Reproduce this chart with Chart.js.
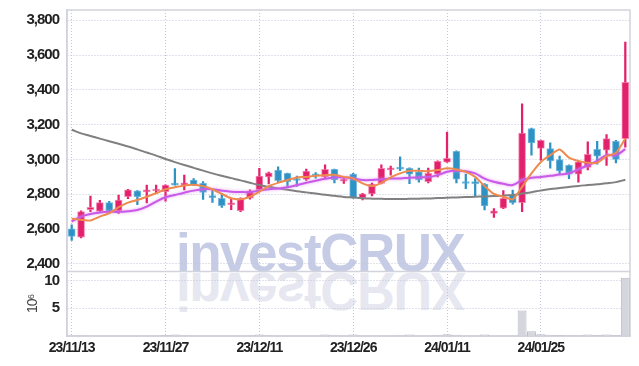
<!DOCTYPE html>
<html>
<head>
<meta charset="utf-8">
<script src="https://cdn.jsdelivr.net/npm/chart.js@4.4.1/dist/chart.umd.min.js"></script>
<style>
  body { margin: 0; background: #fff; }
  #wrap { position: relative; width: 639px; height: 366px; }
  .mark { position: absolute; left: 176px; top: 227px; font: bold 53px "Liberation Sans", sans-serif; line-height: 52px; letter-spacing: -1.5px; white-space: nowrap; }
  .mark.main { color: #c6cce5; }
  .mark.flip { color: #e6e7f0; transform-origin: 0 45px; transform: scaleY(-1); }
  canvas { position: relative; }
</style>
</head>
<body>
<div id="wrap">
  <div class="mark main">investCRUX</div>
  <div class="mark flip">investCRUX</div>
  <canvas id="chart"></canvas>
</div>
<script>
// 거래일 (KRX)
const dates = [
  '23/11/13','23/11/14','23/11/15','23/11/16','23/11/17','23/11/20','23/11/21','23/11/22','23/11/23','23/11/24',
  '23/11/27','23/11/28','23/11/29','23/11/30','23/12/01','23/12/04','23/12/05','23/12/06','23/12/07','23/12/08',
  '23/12/11','23/12/12','23/12/13','23/12/14','23/12/15','23/12/18','23/12/19','23/12/20','23/12/21','23/12/22',
  '23/12/26','23/12/27','23/12/28','24/01/02','24/01/03','24/01/04','24/01/05','24/01/08','24/01/09','24/01/10',
  '24/01/11','24/01/12','24/01/15','24/01/16','24/01/17','24/01/18','24/01/19','24/01/22','24/01/23','24/01/24',
  '24/01/25','24/01/26','24/01/29','24/01/30','24/01/31','24/02/01','24/02/02','24/02/05','24/02/06','24/02/07'
];

const opens = [
  2602, 2554, 2712, 2701, 2752, 2705, 2786, 2820, 2813, 2819,
  2815, 2856, 2853, 2882, 2863, 2790, 2777, 2740, 2706, 2777,
  2825, 2900, 2939, 2920, 2886, 2886, 2914, 2900, 2943, 2876,
  2916, 2781, 2802, 2863, 2940, 2952, 2949, 2929, 2872, 2916,
  2985, 3047, 2866, 2866, 2859, 2690, 2720, 2796, 2752, 3177,
  3063, 3063, 3000, 2967, 2916, 2954, 3059, 3053, 3105, 3120
];
const highs = [
  2624, 2705, 2790, 2765, 2760, 2795, 2828, 2822, 2853, 2853,
  2855, 2948, 2910, 2890, 2873, 2824, 2805, 2775, 2780, 2825,
  2949, 2928, 2958, 2922, 2905, 2945, 2925, 2970, 2945, 2896,
  2920, 2805, 2865, 2970, 2962, 3015, 2952, 2950, 2950, 2992,
  3158, 3050, 2916, 2890, 2862, 2718, 2822, 2824, 3320, 3180,
  3112, 3095, 3020, 2970, 2990, 3101, 3105, 3143, 3110, 3675
];
const lows = [
  2535, 2550, 2700, 2696, 2690, 2690, 2775, 2740, 2750, 2805,
  2760, 2852, 2825, 2850, 2770, 2753, 2724, 2712, 2700, 2772,
  2820, 2860, 2867, 2842, 2845, 2880, 2893, 2893, 2865, 2862,
  2778, 2767, 2790, 2860, 2910, 2936, 2861, 2870, 2866, 2900,
  2983, 2865, 2832, 2790, 2710, 2667, 2718, 2743, 2700, 3025,
  2996, 2950, 2918, 2890, 2870, 2940, 2973, 2966, 2980, 3071
];
const closes = [
  2558, 2701, 2725, 2752, 2701, 2767, 2825, 2787, 2825, 2830,
  2853, 2853, 2866, 2856, 2811, 2781, 2735, 2746, 2777, 2820,
  2905, 2923, 2878, 2872, 2879, 2933, 2906, 2943, 2882, 2886,
  2781, 2802, 2859, 2949, 2952, 2945, 2916, 2882, 2920, 2989,
  3006, 2887, 2862, 2861, 2733, 2705, 2777, 2752, 3152, 3095,
  3110, 2992, 2935, 2916, 2986, 3030, 3019, 3120, 3000, 3443
];

// 이동평균
const ma5 = [
  2659, 2653, 2649, 2672, 2691, 2726, 2752, 2767, 2786, 2806,
  2829, 2840, 2851, 2855, 2847, 2829, 2802, 2777, 2771, 2786,
  2815, 2847, 2866, 2882, 2897, 2900, 2906, 2910, 2912, 2900,
  2891, 2863, 2847, 2866, 2897, 2920, 2935, 2935, 2933, 2939,
  2949, 2943, 2929, 2900, 2847, 2802, 2786, 2771, 2843, 2920,
  2986, 3025, 3057, 3011, 2992, 2981, 2981, 3019, 3038, 3120
];
const ma20 = [
  2643, 2672, 2687, 2695, 2699, 2699, 2703, 2710, 2729, 2758,
  2783, 2796, 2809, 2821, 2829, 2829, 2821, 2815, 2813, 2813,
  2821, 2829, 2833, 2840, 2853, 2866, 2878, 2889, 2897, 2897,
  2891, 2882, 2882, 2886, 2891, 2891, 2895, 2897, 2899, 2910,
  2929, 2935, 2933, 2920, 2890, 2872, 2860, 2853, 2882, 2895,
  2900, 2906, 2914, 2920, 2943, 2967, 2992, 3025, 3025, 3059
];
const ma60 = [
  3171, 3150, 3135, 3120, 3105, 3090, 3075, 3058, 3040, 3022,
  3003, 2985, 2968, 2952, 2936, 2920, 2906, 2893, 2880, 2866,
  2853, 2843, 2834, 2826, 2818, 2811, 2804, 2797, 2791, 2785,
  2781, 2777, 2775, 2774, 2773, 2773, 2774, 2775, 2776, 2778,
  2780, 2782, 2784, 2786, 2788, 2790, 2792, 2796, 2804, 2812,
  2822, 2830, 2836, 2842, 2848, 2853, 2858, 2863, 2870, 2884
];

// 거래량 (x 10^6)
const volume = [
  0.12, 0.15, 0.1, 0.1, 0.1, 0.1, 0.1, 0.1, 0.1, 0.12,
  0.2, 0.3, 0.15, 0.1, 0.1, 0.1, 0.1, 0.1, 0.1, 0.15,
  0.3, 0.15, 0.12, 0.1, 0.1, 0.1, 0.12, 0.3, 0.15, 0.1,
  0.3, 0.12, 0.1, 0.12, 0.1, 0.15, 0.3, 0.12, 0.1, 0.15,
  0.35, 0.25, 0.1, 0.1, 0.3, 0.12, 0.1, 0.12, 4.6, 0.9,
  0.35, 0.25, 0.2, 0.15, 0.15, 0.3, 0.2, 0.3, 0.2, 10.5
];

const UP = '#e3206b';
const DOWN = '#2e93c4';
const isUp = i => closes[i] >= opens[i];

const tickFont = { family: "'Liberation Sans', Arial, sans-serif", size: 15, weight: 'bold' };
const gridColor = '#c3c6d8';
const frameColor = '#d2d3dc';

// 좁은 글자 간격
const narrowText = {
  id: 'narrowText',
  beforeDraw(chart) { chart.ctx.letterSpacing = '-1px'; }
};

// 20일선 번짐 효과
const glow = {
  id: 'glow',
  beforeDatasetDraw(chart, args) {
    if (args.index === 1) {
      chart.ctx.shadowColor = 'rgba(225,140,240,0.9)';
      chart.ctx.shadowBlur = 3;
    }
  },
  afterDatasetDraw(chart, args) {
    if (args.index === 1) {
      chart.ctx.shadowColor = 'rgba(0,0,0,0)';
      chart.ctx.shadowBlur = 0;
    }
  }
};

// 패널 테두리와 구분선
const frame = {
  id: 'frame',
  beforeDatasetsDraw(chart) {
    const { ctx, chartArea: a, scales } = chart;
    ctx.save();
    ctx.strokeStyle = frameColor;
    ctx.lineWidth = 1.5;
    ctx.strokeRect(a.left, a.top, a.right - a.left, a.bottom - a.top);
    ctx.beginPath();
    ctx.moveTo(a.left, scales.y.bottom);
    ctx.lineTo(a.right, scales.y.bottom);
    ctx.stroke();
    ctx.restore();
  }
};

// 세로축 너비 고정, 가장자리 여백 제거
const fitAxis = s => {
  s.width = 60;
  s.paddingTop = 0;
  s.paddingBottom = 0;
};

const ctx = document.getElementById('chart').getContext('2d');
new Chart(ctx, {
  type: 'bar',
  data: {
    labels: dates,
    datasets: [
      {
        type: 'line', label: 'MA5', data: ma5, yAxisID: 'y', order: 1,
        borderColor: '#ef8a4e', borderWidth: 2, pointRadius: 0, tension: 0.2
      },
      {
        type: 'line', label: 'MA20', data: ma20, yAxisID: 'y', order: 1,
        borderColor: '#c95ae8', borderWidth: 2, pointRadius: 0, tension: 0.4
      },
      {
        type: 'line', label: 'MA60', data: ma60, yAxisID: 'y', order: 1,
        borderColor: '#808080', borderWidth: 2, pointRadius: 0, tension: 0.4
      },
      {
        label: 'body', data: opens.map((o, i) => [o, closes[i]]), yAxisID: 'y', order: 2,
        backgroundColor: c => isUp(c.dataIndex) ? UP : DOWN,
        borderColor: c => isUp(c.dataIndex) ? 'rgba(240,110,160,0.8)' : 'rgba(90,170,215,0.8)',
        borderWidth: 1, borderSkipped: false,
        barThickness: 7, minBarLength: 2, grouped: false
      },
      {
        label: 'wick', data: lows.map((l, i) => [l, highs[i]]), yAxisID: 'y', order: 3,
        backgroundColor: c => isUp(c.dataIndex) ? UP : DOWN,
        barThickness: 1.6, grouped: false
      },
      {
        label: 'volume', data: volume, yAxisID: 'y2', order: 4,
        backgroundColor: '#d5d5dd', borderColor: '#b9b9c5', borderWidth: 1,
        barPercentage: 0.95, categoryPercentage: 1, grouped: false
      }
    ]
  },
  options: {
    responsive: true,
    maintainAspectRatio: false,
    animation: false,
    layout: { padding: { top: 10, right: 9, bottom: 5, left: 7 } },
    plugins: { legend: { display: false }, tooltip: { enabled: false } },
    scales: {
      x: {
        offset: true,
        grid: {
          offset: false, drawTicks: false,
          color: c => c.index % 10 === 0 ? gridColor : 'transparent'
        },
        border: { display: true, color: frameColor, width: 1.5, dash: [1, 2] },
        ticks: {
          autoSkip: false, maxRotation: 0, padding: 4, color: '#222',
          font: { ...tickFont, size: 14 },
          callback: (v, i) => i % 10 === 0 ? dates[i] : ''
        }
      },
      y: {
        type: 'linear', position: 'left', stack: 'panel', stackWeight: 263, weight: 2,
        min: 2356, max: 3859,
        afterFit: fitAxis,
        grid: { color: gridColor, drawTicks: false },
        border: { color: frameColor, width: 1.5, dash: [1, 2] },
        ticks: {
          autoSkip: false, stepSize: 200, includeBounds: false, padding: 8, color: '#222', font: tickFont,
          callback: v => v.toLocaleString('en-US')
        }
      },
      y2: {
        type: 'linear', position: 'left', stack: 'panel', stackWeight: 65, weight: 1,
        min: 0, max: 11.6,
        afterFit: fitAxis,
        grid: { color: gridColor, drawTicks: false },
        border: { color: frameColor, width: 1.5, dash: [1, 2] },
        title: { display: true, text: '10\u2076', color: '#444', font: { ...tickFont, size: 14, weight: 'normal' }, padding: { top: 18, bottom: 0 } },
        ticks: {
          autoSkip: false, stepSize: 5, includeBounds: false, padding: 8, color: '#222', font: tickFont,
          callback: v => v === 0 ? '' : v
        }
      }
    }
  },
  plugins: [narrowText, glow, frame]
});
</script>
</body>
</html>
